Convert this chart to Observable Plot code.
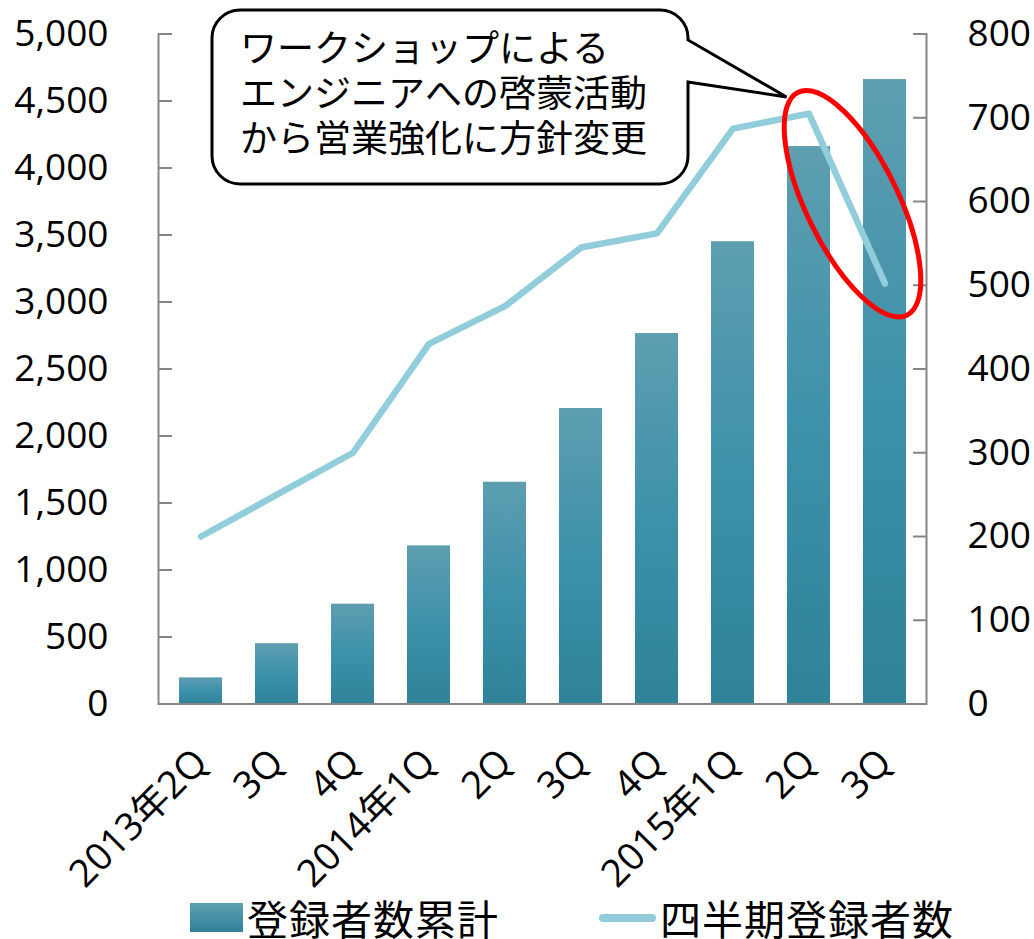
<!DOCTYPE html>
<html>
<head>
<meta charset="utf-8">
<script src="https://cdn.jsdelivr.net/npm/d3@7"></script>
<script src="https://cdn.jsdelivr.net/npm/@observablehq/plot@0.6"></script>
<style>
  html, body { margin: 0; padding: 0; background: #fff; }
  body { width: 1034px; height: 939px; overflow: hidden; font-family: "Noto Sans CJK JP", "Noto Sans", sans-serif; }
  #chart svg { display: block; }
  #legend { position: relative; height: 41px; font-size: 41px; line-height: 40px; color: #000; white-space: nowrap; letter-spacing: 1px; }
  #legend .item { position: absolute; top: -1px; }
  #legend .sw-bar { position: absolute; width: 53px; height: 29px; top: 5px; background: linear-gradient(#5E9EB1, #2F8298); }
  #legend .sw-line { position: absolute; width: 57px; height: 8px; top: 16px; border-radius: 4px; background: #92CDDC; }
</style>
</head>
<body>
<div id="chart"></div>
<div id="legend">
  <div class="sw-bar" style="left:190px"></div>
  <div class="item" style="left:247px">登録者数累計</div>
  <div class="sw-line" style="left:599px"></div>
  <div class="item" style="left:660px">四半期登録者数</div>
</div>
<script>
// ---- data ----
const quarterKeys = ["2013-2Q","2013-3Q","2013-4Q","2014-1Q","2014-2Q","2014-3Q","2014-4Q","2015-1Q","2015-2Q","2015-3Q"];
const tickLabels  = ["2013年2Q","3Q","4Q","2014年1Q","2Q","3Q","4Q","2015年1Q","2Q","3Q"];
const cumulative  = [195, 450, 745, 1180, 1655, 2205, 2765, 3450, 4160, 4660];   // 登録者数累計 (left axis)
const quarterly   = [200, 250, 300, 430, 475, 545, 562, 687, 705, 502];          // 四半期登録者数 (right axis)
const leftTicks   = [0, 500, 1000, 1500, 2000, 2500, 3000, 3500, 4000, 4500, 5000];
const rightTicks  = [0, 100, 200, 300, 400, 500, 600, 700, 800];
const calloutLines = ["ワークショップによる", "エンジニアへの啓蒙活動", "から営業強化に方針変更"];

const leftMax = 5000, rightMax = 800;
const ratio = leftMax / rightMax;
const labelOf = new Map(quarterKeys.map((k, i) => [k, tickLabels[i]]));
const data = quarterKeys.map((k, i) => ({key: k, cum: cumulative[i], q: quarterly[i]}));

const W = 1034, H = 898;
const axisColor = "#868686";
const fmt = d3.format(",");
const tickFont = "'Open Sans', 'Noto Sans CJK JP', sans-serif";

const chart = Plot.plot({
  width: W, height: H,
  marginLeft: 158, marginRight: 108, marginTop: 33.5, marginBottom: H - 703.5,
  style: {fontFamily: tickFont, fontSize: "37px", color: "#000", background: "#fff", overflow: "visible"},
  x: {type: "band", domain: quarterKeys, paddingInner: 0.44, paddingOuter: 0.22, label: null},
  y: {domain: [0, leftMax], label: null},
  marks: [
    Plot.barY(data, {x: "key", y: "cum", fill: "url(#barGrad)"}),
    Plot.lineY(data, {x: "key", y: d => d.q * ratio, stroke: "#92CDDC", strokeWidth: 6.5, strokeLinecap: "round", strokeLinejoin: "round"}),
    Plot.ruleY([0], {stroke: axisColor, strokeWidth: 2}),
    Plot.frame({anchor: "left", stroke: axisColor, strokeWidth: 2}),
    Plot.frame({anchor: "right", stroke: axisColor, strokeWidth: 2}),
    Plot.axisY({anchor: "left", ticks: leftTicks, tickFormat: fmt, tickSize: 14, dx: 14, tickPadding: 50,
                stroke: axisColor, strokeWidth: 2, fontSize: 37, label: null}),
    Plot.axisY({anchor: "right", ticks: rightTicks.map(v => v * ratio), tickFormat: d => fmt(Math.round(d / ratio)),
                tickSize: 14, dx: -14, tickPadding: 41, stroke: axisColor, strokeWidth: 2, fontSize: 37, label: null}),
    Plot.axisX({tickRotate: -45, tickSize: 0, tickPadding: 52, tickFormat: d => labelOf.get(d), fontSize: 38, label: null})
  ]
});

// gradient for bars
const ns = "http://www.w3.org/2000/svg";
const defs = document.createElementNS(ns, "defs");
defs.innerHTML = '<linearGradient id="barGrad" x1="0" y1="0" x2="0" y2="1">' +
  '<stop offset="0" stop-color="#5E9EB1"/><stop offset="0.5" stop-color="#3D91A9"/><stop offset="1" stop-color="#2F8298"/></linearGradient>';
chart.prepend(defs);

// annotation: red ellipse around the last two quarters
const xs = chart.scale("x"), ys = chart.scale("y");
const bw = xs.bandwidth;
const c9 = xs.apply(quarterKeys[8]) + bw / 2, c10 = xs.apply(quarterKeys[9]) + bw / 2;
const ex = (c9 + c10) / 2 + 6, ey = ys.apply(3730);
const ell = document.createElementNS(ns, "ellipse");
ell.setAttribute("cx", 0); ell.setAttribute("cy", 0);
ell.setAttribute("rx", 124); ell.setAttribute("ry", 46);
ell.setAttribute("transform", `translate(${ex},${ey}) rotate(64)`);
ell.setAttribute("fill", "none"); ell.setAttribute("stroke", "#FF0000"); ell.setAttribute("stroke-width", 5);
chart.appendChild(ell);

// annotation: callout box
const bx0 = 212, by0 = 10, bx1 = 688, by1 = 184, r = 28;
const tipX = c9 - 22, tipY = 97;
const p = `M${bx0 + r},${by0} H${bx1 - r} A${r},${r} 0 0 1 ${bx1},${by0 + r} V40 L${tipX},${tipY} L${bx1},82 V${by1 - r} ` +
          `A${r},${r} 0 0 1 ${bx1 - r},${by1} H${bx0 + r} A${r},${r} 0 0 1 ${bx0},${by1 - r} V${by0 + r} A${r},${r} 0 0 1 ${bx0 + r},${by0} Z`;
const path = document.createElementNS(ns, "path");
path.setAttribute("d", p); path.setAttribute("fill", "#fff"); path.setAttribute("stroke", "#000");
path.setAttribute("stroke-width", 3); path.setAttribute("stroke-linejoin", "miter");
chart.appendChild(path);
const txt = document.createElementNS(ns, "text");
txt.setAttribute("font-size", 37); txt.setAttribute("fill", "#000");
txt.setAttribute("text-anchor", "start");
txt.setAttribute("font-family", "'Noto Sans CJK JP', sans-serif");
calloutLines.forEach((s, i) => {
  const t = document.createElementNS(ns, "tspan");
  t.setAttribute("x", 240); t.setAttribute("y", 62 + i * 45);
  t.textContent = s;
  txt.appendChild(t);
});
chart.appendChild(txt);

document.getElementById("chart").appendChild(chart);
</script>
</body>
</html>
